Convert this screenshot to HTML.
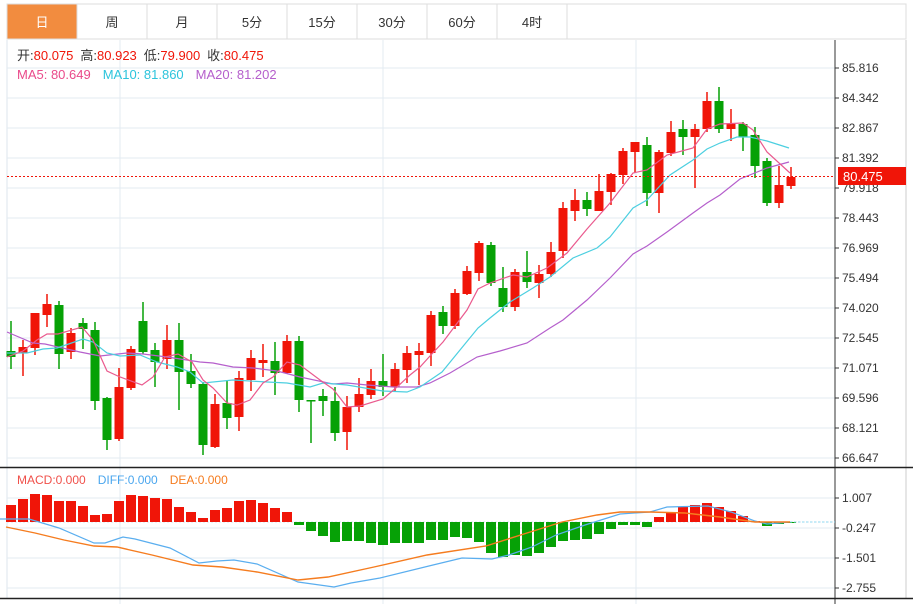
<!DOCTYPE html>
<html><head><meta charset="utf-8"><style>
body{margin:0;background:#fff;width:913px;height:604px;overflow:hidden;font-family:"Liberation Sans","Noto Sans CJK SC",sans-serif}
</style></head><body>
<svg id="s" width="913" height="604" xmlns="http://www.w3.org/2000/svg" font-family="Liberation Sans, Noto Sans CJK SC, sans-serif"></svg>
<script>
const S=document.getElementById('s');let h='';
h+='<rect x="7" y="4" width="899" height="35" fill="#fff" stroke="#ddd"/>';
const tabs=['日','周','月','5分','15分','30分','60分','4时'];
tabs.forEach((t,i)=>{const x=7+i*70;
h+=`<rect x="${x}" y="4" width="70" height="35" fill="${i==0?'#f28c3f':'#fff'}" stroke="#ddd"/>`;
h+=`<text x="${x+35}" y="27" font-size="13" text-anchor="middle" fill="${i==0?'#fff':'#333'}">${t}</text>`;});
h+='<line x1="7" y1="40" x2="7" y2="598" stroke="#dde6ee"/>';
h+='<line x1="906" y1="40" x2="906" y2="598" stroke="#ccc"/>';
[120,383,636].forEach(x=>h+=`<line x1="${x}" y1="40" x2="${x}" y2="604" stroke="#e3ebf2"/>`);
const labs=['85.816','84.342','82.867','81.392','79.918','78.443','76.969','75.494','74.020','72.545','71.071','69.596','68.121','66.647'];
labs.forEach((l,k)=>{const y=68+30*k;h+=`<line x1="7" y1="${y}" x2="835" y2="${y}" stroke="#e3ebf2"/><line x1="835" y1="${y}" x2="839" y2="${y}" stroke="#333"/><text x="842" y="${y+4}" font-size="12" fill="#333">${l}</text>`;});
[['1.007',498],['-0.247',528],['-1.501',558],['-2.755',588]].forEach(([l,y])=>{h+=`<line x1="7" y1="${y}" x2="835" y2="${y}" stroke="#e3ebf2"/><line x1="835" y1="${y}" x2="839" y2="${y}" stroke="#333"/><text x="842" y="${y+4}" font-size="12" fill="#333">${l}</text>`;});
h+='<line x1="835" y1="40" x2="835" y2="604" stroke="#333"/>';
h+='<line x1="0" y1="467.5" x2="913" y2="467.5" stroke="#222" stroke-width="1.5"/>';
h+='<line x1="0" y1="598.5" x2="913" y2="598.5" stroke="#222" stroke-width="1.5"/>';
const C=[[351,357,321,369,1],[347,353,340,376,0],[313,348,313,355,0],[304,315,294,327,0],[305,354,301,369,1],[333,352,328,359,0],[323,329,318,349,1],[330,401,322,410,1],[398,440,397,450,1],[387,439,368,441,0],[349,388,346,390,0],[321,352,302,354,1],[350,362,343,387,1],[340,359,325,369,0],[340,372,323,410,1],[371,384,354,388,1],[384,445,382,455,1],[404,447,394,448,0],[403,418,381,429,1],[378,417,371,431,0],[358,380,350,391,0],[360,363,344,377,0],[361,373,342,395,1],[341,373,335,374,0],[341,400,336,412,1],[400,401,400,443,1],[396,401,389,416,1],[401,433,387,441,1],[407,432,396,450,0],[394,407,378,412,0],[381,395,369,399,0],[381,387,354,396,1],[369,387,363,391,0],[353,370,346,383,0],[351,355,343,385,0],[315,353,311,366,0],[312,326,306,334,1],[293,326,289,329,0],[271,294,266,295,0],[243,273,241,281,0],[245,283,242,286,1],[288,307,267,312,1],[272,307,269,311,0],[272,282,251,288,1],[274,283,265,298,0],[252,274,242,277,0],[208,251,202,258,0],[200,211,189,221,0],[200,209,192,216,1],[191,211,174,211,0],[174,192,173,205,0],[151,175,148,184,0],[142,152,142,173,0],[145,193,137,206,1],[152,193,150,213,0],[132,153,121,156,0],[129,137,120,155,1],[129,137,124,188,0],[101,129,92,132,0],[101,129,87,133,1],[124,129,109,141,0],[124,137,122,151,1],[135,166,127,178,1],[161,203,158,206,1],[185,203,166,208,0],[177,186,167,189,0]];
C.forEach((c,i)=>{const x=11+i*12;const col=c[4]?'#06a106':'#f01508';
h+=`<line x1="${x}" y1="${c[2]}" x2="${x}" y2="${c[3]}" stroke="${col}" stroke-width="1.5"/><rect x="${x-4.5}" y="${c[0]}" width="9" height="${Math.max(1.5,c[1]-c[0])}" fill="${col}"/>`;});
const pl=(p,col,w)=>h+=`<polyline points="${p}" fill="none" stroke="${col}" stroke-width="${w||1.2}"/>`;
pl('7,332 33,343 45,344 80,352 100,356 127,353 143,354 167,357 200,362 213,363 233,367 253,368 277,371 300,377 333,384 347,383 367,385 393,387 417,387 430,383 450,373 477,357 500,351 527,343 550,328 563,320 587,300 610,278 633,254 647,246 667,232 693,213 707,203 720,195 740,179 767,168 789,162','#b55fcc');
pl('7,353 27,353 43,349 57,348 83,339 93,342 107,353 120,356 140,355 157,362 177,367 190,372 203,383 233,380 267,382 287,383 310,387 323,383 347,385 383,391 407,392 420,387 442,372 460,350 478,328 490,318 510,302 533,288 550,277 573,258 597,248 610,237 633,208 647,200 670,175 693,160 707,149 720,143 737,137 750,137 767,141 789,148','#4ccfe0');
pl('7,357 23,351 37,340 47,334 58,334 82,327 93,340 107,371 120,377 142,385 153,377 165,357 178,354 192,362 203,380 213,388 227,403 237,405 250,400 263,383 273,377 287,362 300,365 320,380 333,389 347,407 360,406 383,399 397,387 410,375 420,367 430,356 443,342 467,310 478,289 490,283 513,275 527,277 547,268 567,253 587,229 610,203 633,173 647,170 667,155 693,148 707,129 720,124 743,123 753,130 767,152 790,173','#ea5a8e');
h+='<line x1="7" y1="176.5" x2="835" y2="176.5" stroke="#f01508" stroke-dasharray="2,2"/>';
h+='<rect x="838" y="167" width="68" height="18" fill="#f01508"/><text x="843" y="181" font-size="13" fill="#fff">80.475</text>';
const M=[505,499,494,495,501,501,506,515,514,501,495,496,498,499,507,512,518,510,508,501,500,503,508,512,525,531,536,542,541,541,543,545,543,543,543,540,540,537,538,542,553,557,555,556,553,547,541,540,539,534,529,525,525,527,517,512,507,505,503,507,511,516,521,526,524,523];
h+='<line x1="7" y1="522" x2="835" y2="522" stroke="#cfe6f0" stroke-dasharray="2,2"/>';
M.forEach((y,i)=>{const x=11+i*12;const col=y<522?'#f01508':'#06a106';const t=Math.min(y,522),b=Math.max(y,522);
h+=`<rect x="${x-5}" y="${t}" width="10" height="${Math.max(1,b-t)}" fill="${col}"/>`;});
h+='<line x1="790" y1="522" x2="835" y2="522" stroke="#8fd8f0" stroke-dasharray="2,2"/>';
pl('0,519 29,519 59,528 94,543 105,543 123,537 135,539 170,548 199,563 217,561 234,560 257,564 298,582 334,587 351,583 380,578 433,565 462,558 492,559 509,555 532,547 556,535 585,525 620,514 650,512 667,507 708,506 731,512 755,521 767,524 790,522','#5aaeef');
pl('6,527 35,533 64,540 94,546 117,547 152,555 193,565 222,567 257,572 298,580 328,577 374,567 427,555 486,546 527,533 562,522 597,515 620,512 650,512 685,513 720,517 755,522 790,522','#f57c1f',1.4);
h+=`<text y="60" font-size="13"><tspan x="17" fill="#333">开:</tspan><tspan fill="#f01508">80.075</tspan><tspan dx="7" fill="#333">高:</tspan><tspan fill="#f01508">80.923</tspan><tspan dx="7" fill="#333">低:</tspan><tspan fill="#f01508">79.900</tspan><tspan dx="7" fill="#333">收:</tspan><tspan fill="#f01508">80.475</tspan></text>`;
h+=`<text y="79" font-size="13"><tspan x="17" fill="#ea4a8a">MA5: 80.649</tspan><tspan dx="12" fill="#2cc4dc">MA10: 81.860</tspan><tspan dx="12" fill="#b55fcc">MA20: 81.202</tspan></text>`;
h+=`<text y="484" font-size="12"><tspan x="17" fill="#f0504a">MACD:0.000</tspan><tspan dx="12" fill="#4aa6ee">DIFF:0.000</tspan><tspan dx="12" fill="#f57c1f">DEA:0.000</tspan></text>`;
S.innerHTML=h;
</script>
</body></html>
